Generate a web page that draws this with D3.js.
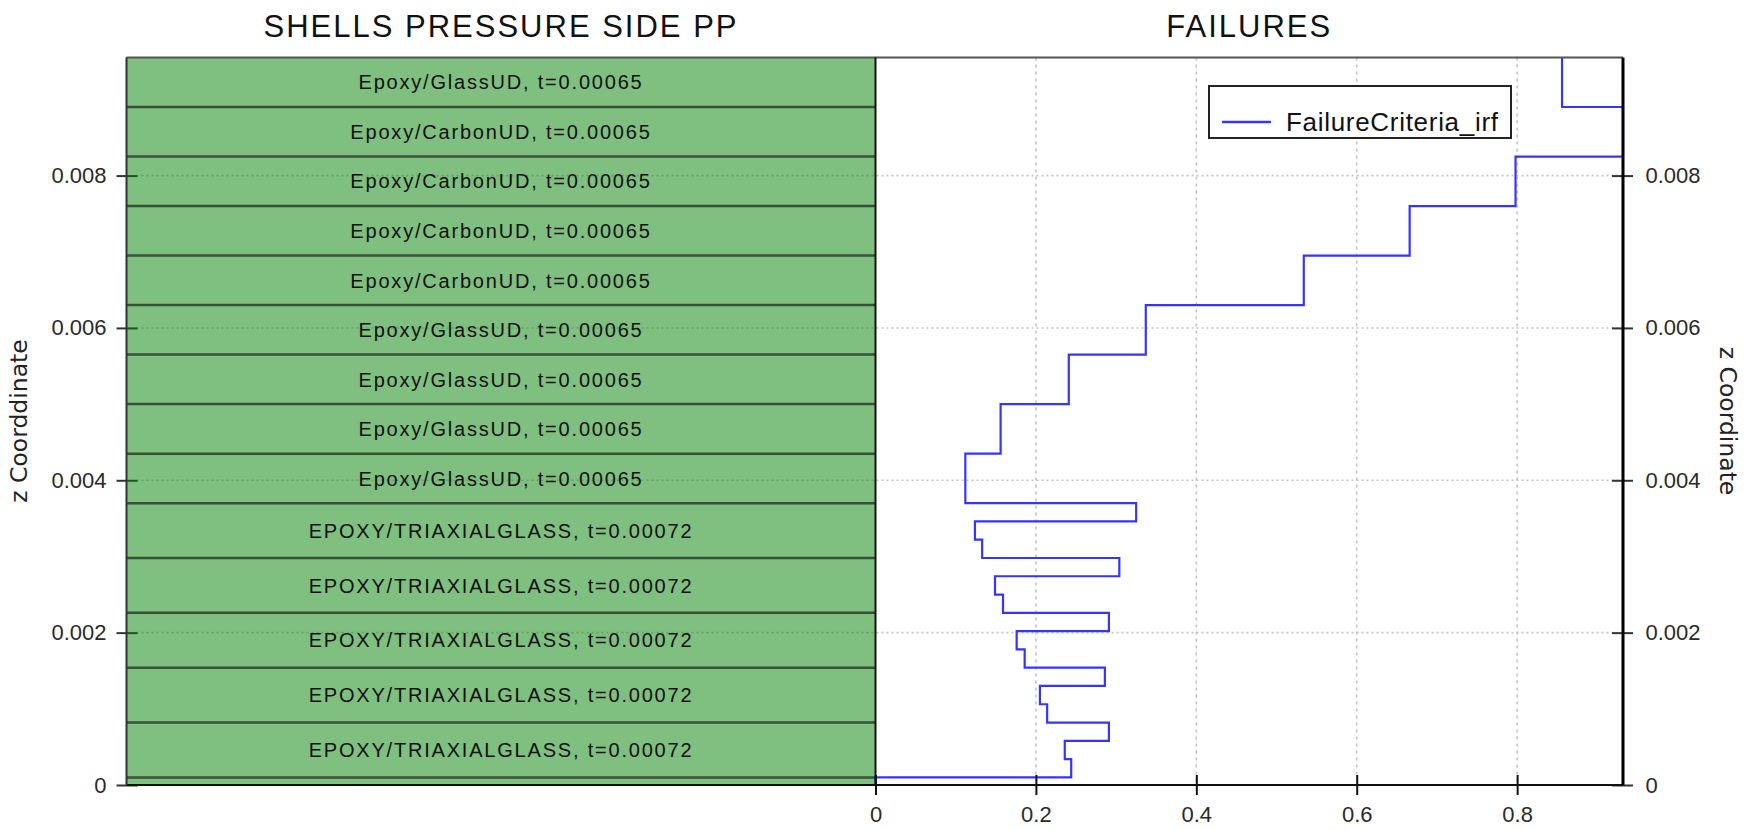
<!DOCTYPE html>
<html><head><meta charset="utf-8">
<script src="https://cdn.jsdelivr.net/npm/d3@7"></script>
<style>body{margin:0;background:#fff;} svg{display:block;}</style>
</head><body><svg id="c" width="1750" height="830"></svg>
<script>
// ---- data (layers listed top to bottom) ----
const layerMaterials = [
  "Epoxy/GlassUD", "Epoxy/CarbonUD", "Epoxy/CarbonUD", "Epoxy/CarbonUD", "Epoxy/CarbonUD",
  "Epoxy/GlassUD", "Epoxy/GlassUD", "Epoxy/GlassUD", "Epoxy/GlassUD",
  "EPOXY/TRIAXIALGLASS", "EPOXY/TRIAXIALGLASS", "EPOXY/TRIAXIALGLASS", "EPOXY/TRIAXIALGLASS", "EPOXY/TRIAXIALGLASS",
  ""
];
const layerThickness = [
  0.00065, 0.00065, 0.00065, 0.00065, 0.00065,
  0.00065, 0.00065, 0.00065, 0.00065,
  0.00072, 0.00072, 0.00072, 0.00072, 0.00072,
  0.0001
];
// failure criterion step profile (ply boundaries bottom -> top, value per ply)
const failureZ = [0, 0.0001, 0.00034, 0.00058, 0.00082, 0.00106, 0.0013, 0.00154, 0.00178, 0.00202,
  0.00226, 0.0025, 0.00274, 0.00298, 0.00322, 0.00346, 0.0037, 0.00435, 0.005, 0.00565,
  0.0063, 0.00695, 0.0076, 0.00825, 0.0089, 0.00955];
const failureValues = [0, 0.244, 0.236, 0.291, 0.214, 0.205, 0.286, 0.186, 0.176, 0.291,
  0.159, 0.149, 0.304, 0.133, 0.124, 0.325, 0.112, 0.156, 0.241, 0.337,
  0.534, 0.666, 0.798, 0.932, 0.856];
const zTicks = [0, 0.002, 0.004, 0.006, 0.008];
const xTicks = [0, 0.2, 0.4, 0.6, 0.8];
const panelTitles = ["SHELLS PRESSURE SIDE PP", "FAILURES"];
const yLabelLeft = "z Coorddinate";
const yLabelRight = "z Coordinate";
const legendLabel = "FailureCriteria_irf";

// ---- layout ----
const L = 126.5, M = 875.5, R = 1623, T = 57.5, B = 785;
const svg = d3.select("#c");
const zMax = d3.sum(layerThickness);
const y = d3.scaleLinear().domain([0, zMax]).range([B, T]);
const x = d3.scaleLinear().domain([0, d3.max(failureValues)]).range([M, R]);
const fmtZ = d => d === 0 ? "0" : d3.format(".3f")(d);
const tickFont = "'Liberation Sans', Arial, sans-serif";

// layers bottom-up
const layers = [];
let acc = 0;
for (let i = layerMaterials.length - 1; i >= 0; i--) {
  layers.push({mat: layerMaterials[i], t: layerThickness[i], z0: acc, z1: acc + layerThickness[i]});
  acc += layerThickness[i];
}

// grid
svg.append("g").selectAll("line").data(zTicks.filter(d => d > 0)).join("line")
  .attr("x1", L).attr("x2", R).attr("y1", d => y(d)).attr("y2", d => y(d))
  .attr("stroke", "#c4c4c4").attr("stroke-width", 1.6).attr("stroke-dasharray", "2,3");
svg.append("g").selectAll("line").data(xTicks.filter(d => d > 0)).join("line")
  .attr("x1", d => x(d)).attr("x2", d => x(d)).attr("y1", T).attr("y2", B)
  .attr("stroke", "#c4c4c4").attr("stroke-width", 1.6).attr("stroke-dasharray", "3,4");

// left axis (under the semi-transparent layers)
const gL = svg.append("g").attr("transform", `translate(${L + 11},0)`)
  .call(d3.axisLeft(y).tickValues(zTicks).tickFormat(fmtZ).tickSize(21).tickPadding(10));
gL.select(".domain").remove();
gL.attr("font-family", tickFont).attr("font-size", 22);
gL.selectAll("line").attr("stroke", "#333").attr("stroke-width", 2);
gL.selectAll("text").attr("fill", "#2a2a2a");

// layers
svg.append("g").selectAll("rect").data(layers).join("rect")
  .attr("x", L).attr("width", M - L)
  .attr("y", d => y(d.z1)).attr("height", d => y(d.z0) - y(d.z1))
  .attr("fill", "#008000").attr("fill-opacity", 0.5);
svg.append("g").selectAll("line").data(layers.slice(0, -1)).join("line")
  .attr("x1", L).attr("x2", M).attr("y1", d => y(d.z1)).attr("y2", d => y(d.z1))
  .attr("stroke", "#000").attr("stroke-opacity", 0.58).attr("stroke-width", 2.5);
svg.append("g").selectAll("text").data(layers.filter(d => d.mat !== "")).join("text")
  .attr("x", (L + M) / 2).attr("y", d => y((d.z0 + d.z1) / 2)).attr("dy", "0.36em")
  .attr("text-anchor", "middle").attr("font-family", tickFont).attr("font-size", 20)
  .attr("letter-spacing", 1.8).attr("fill", "#111")
  .text(d => `${d.mat}, t=${d.t}`);

// failure line
const pts = failureValues.flatMap((v, i) => [[v, failureZ[i]], [v, failureZ[i + 1]]]);
svg.append("path").datum(pts)
  .attr("d", d3.line().x(d => x(d[0])).y(d => y(d[1])))
  .attr("fill", "none").attr("stroke", "#3535ff").attr("stroke-width", 2.2);

// right axis
const gR = svg.append("g").attr("transform", `translate(${R - 11},0)`)
  .call(d3.axisRight(y).tickValues(zTicks).tickFormat(fmtZ).tickSize(21).tickPadding(12.5));
gR.select(".domain").remove();
gR.attr("font-family", tickFont).attr("font-size", 22);
gR.selectAll("line").attr("stroke", "#333").attr("stroke-width", 2);
gR.selectAll("text").attr("fill", "#2a2a2a");

// bottom axis
const gB = svg.append("g").attr("transform", `translate(0,${B - 10})`)
  .call(d3.axisBottom(x).tickValues(xTicks).tickFormat(d3.format("")).tickSize(20).tickPadding(11.5));
gB.select(".domain").remove();
gB.attr("font-family", tickFont).attr("font-size", 22);
gB.selectAll("line").attr("stroke", "#111").attr("stroke-width", 2);
gB.selectAll("text").attr("fill", "#2a2a2a");

// spines
const sp = svg.append("g");
sp.append("line").attr("x1", L).attr("x2", R).attr("y1", T).attr("y2", T).attr("stroke", "#555").attr("stroke-width", 2.2);
sp.append("line").attr("x1", L).attr("x2", R).attr("y1", B).attr("y2", B).attr("stroke", "#111").attr("stroke-width", 2);
sp.append("line").attr("x1", L).attr("x2", L).attr("y1", T).attr("y2", B).attr("stroke", "#333").attr("stroke-width", 2);
sp.append("line").attr("x1", M).attr("x2", M).attr("y1", T).attr("y2", B).attr("stroke", "#111").attr("stroke-width", 2);
sp.append("line").attr("x1", R).attr("x2", R).attr("y1", T).attr("y2", B).attr("stroke", "#000").attr("stroke-width", 3);

// titles
svg.append("g").selectAll("text").data(panelTitles).join("text")
  .attr("x", (d, i) => i === 0 ? (L + M) / 2 : (M + R) / 2).attr("y", 37)
  .attr("text-anchor", "middle").attr("font-family", tickFont).attr("font-size", 31)
  .attr("letter-spacing", 2.0).attr("fill", "#111").text(d => d);

// axis labels
svg.append("text").attr("transform", "translate(27,421) rotate(-90)")
  .attr("text-anchor", "middle").attr("font-family", "'DejaVu Sans', sans-serif")
  .attr("font-size", 23.5).attr("fill", "#222").text(yLabelLeft);
svg.append("text").attr("transform", "translate(1720,421) rotate(90)")
  .attr("text-anchor", "middle").attr("font-family", "'DejaVu Sans', sans-serif")
  .attr("font-size", 23.5).attr("fill", "#222").text(yLabelRight);

// legend
const lg = svg.append("g");
lg.append("rect").attr("x", 1209).attr("y", 86).attr("width", 302).attr("height", 52)
  .attr("fill", "#fff").attr("stroke", "#222").attr("stroke-width", 2);
lg.append("line").attr("x1", 1222).attr("x2", 1271).attr("y1", 122).attr("y2", 122)
  .attr("stroke", "#3535ff").attr("stroke-width", 2.5);
lg.append("text").attr("x", 1286).attr("y", 131).attr("font-family", tickFont)
  .attr("font-size", 26).attr("letter-spacing", 0.7).attr("fill", "#111").text(legendLabel);
</script>
</body></html>
